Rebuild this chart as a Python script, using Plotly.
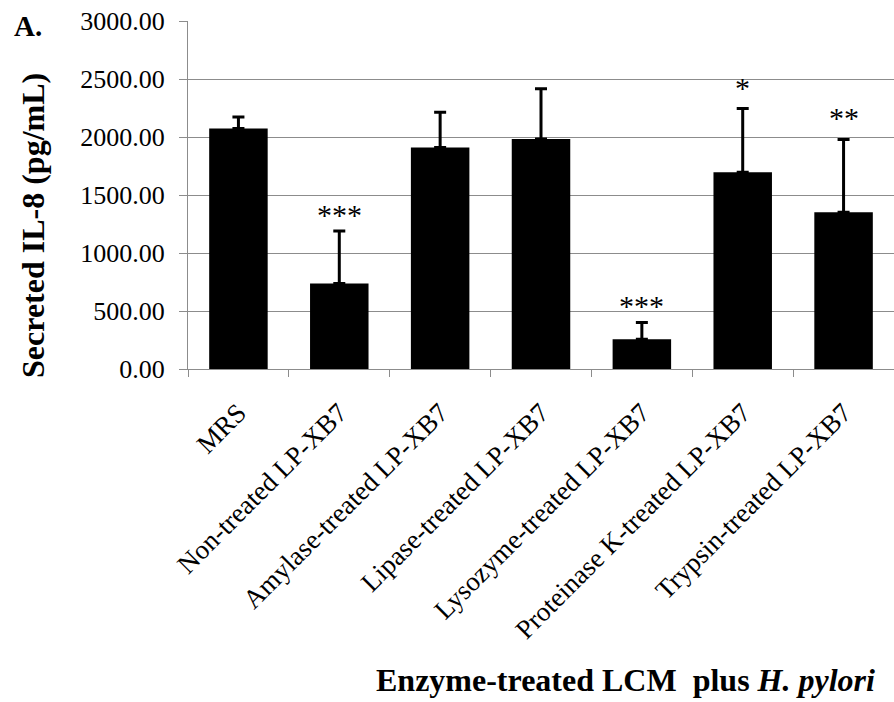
import plotly.graph_objects as go

categories = ["MRS", "Non-treated LP-XB7", "Amylase-treated LP-XB7", "Lipase-treated LP-XB7",
              "Lysozyme-treated LP-XB7", "Proteinase K-treated LP-XB7", "Trypsin-treated LP-XB7"]
values = [2073, 738, 1910, 1982, 257, 1696, 1352]
errors = [100, 451, 304, 435, 143, 549, 627]
sig_labels = ["", "***", "", "", "***", "*", "**"]
sig_y = [0, 1335, 0, 0, 548, 2425, 2170]
y_ticks = [0, 500, 1000, 1500, 2000, 2500, 3000]

SERIF = "Liberation Serif, Times New Roman, serif"

fig = go.Figure()
fig.add_trace(go.Bar(
    x=categories, y=values,
    marker=dict(color="black", line=dict(width=0)),
    error_y=dict(type="data", symmetric=False, array=errors, arrayminus=[0]*len(errors),
                 color="black", thickness=3, width=6),
    showlegend=False,
))

annotations = []
for c, s, yv in zip(categories, sig_labels, sig_y):
    if s:
        annotations.append(dict(x=c, y=yv, xref="x", yref="y", text=s, showarrow=False,
                                font=dict(family=SERIF, size=30, color="black"),
                                xanchor="center", yanchor="middle"))

L, T, B = 188, 20.7, 702 - 369.3
PW, PH = 894 - L, 702 - T - B

def px_to_paper_x(px):
    return (px - L) / PW

def px_to_paper_y(py):
    return (702 - B - py) / PH

annotations.append(dict(x=px_to_paper_x(33), y=px_to_paper_y(226), xref="paper", yref="paper",
                        text="<b>Secreted IL-8 (pg/mL)</b>", textangle=-90, showarrow=False,
                        font=dict(family=SERIF, size=32, color="black"),
                        xanchor="center", yanchor="middle"))
annotations.append(dict(x=px_to_paper_x(625), y=px_to_paper_y(681), xref="paper", yref="paper",
                        text="<b>Enzyme-treated LCM&nbsp; plus <i>H. pylori</i></b>", showarrow=False,
                        font=dict(family=SERIF, size=32, color="black"),
                        xanchor="center", yanchor="middle"))
annotations.append(dict(x=px_to_paper_x(12), y=px_to_paper_y(25.5), xref="paper", yref="paper",
                        text="<b>A.</b>", showarrow=False,
                        font=dict(family=SERIF, size=29, color="black"),
                        xanchor="left", yanchor="middle"))

fig.update_layout(
    width=894, height=702,
    margin=dict(l=L, r=0, t=T, b=B, pad=0),
    paper_bgcolor="white", plot_bgcolor="white",
    bargap=0.42,
    annotations=annotations,
    xaxis=dict(type="category", tickson="boundaries", ticks="outside", ticklen=7,
               tickcolor="#8c8c8c", tickwidth=1.2, showline=True, linecolor="#8c8c8c",
               linewidth=1.2, tickangle=-45, showgrid=False, ticklabelstandoff=16,
               tickfont=dict(family=SERIF, size=27, color="black")),
    yaxis=dict(range=[0, 3000], tickvals=y_ticks, tickformat=".2f", ticks="outside",
               ticklen=8, tickcolor="#8c8c8c", tickwidth=1.2, showline=True,
               linecolor="#8c8c8c", linewidth=1.2, showgrid=True, gridcolor="#8c8c8c",
               gridwidth=1.2, zeroline=False, ticklabelstandoff=9,
               tickfont=dict(family=SERIF, size=26, color="black")),
)

fig.write_html("out.html")
